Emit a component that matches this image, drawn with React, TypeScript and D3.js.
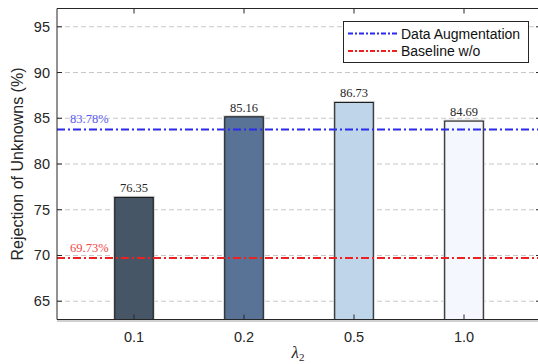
import React from "react";
import * as d3 from "d3";

const categories = ["0.1", "0.2", "0.5", "1.0"];
const values = [76.35, 85.16, 86.73, 84.69];
const barColors = ["#465666", "#587396", "#bfd5ea", "#f5f7fe"];
const yTicks = [65, 70, 75, 80, 85, 90, 95];
const augValue = 83.78;
const baseValue = 69.73;
const legendLabels = ["Data Augmentation", "Baseline w/o"];

const W = 538, H = 364;
const L = 57, R = 541, T = 8.5, B = 319.5;

export default function App() {
  const x = d3.scaleLinear().domain([0.3, 4.7]).range([L, R]);
  const y = d3.scaleLinear().domain([63, 97]).range([B, T]);
  const bw = x(0.35) - x(0);
  const sans = "'Liberation Sans', Arial, sans-serif";
  const serif = "'Liberation Serif', 'DejaVu Serif', serif";
  const dash = "8,3,2,3";
  const blue = "#2a2af0";
  const red = "#ee2020";
  return (
    <svg width={W} height={H} style={{ position: "absolute", left: 0, top: 0 }}>
      <rect x={0} y={0} width={W} height={H} fill="#fff" />
      {yTicks.map((t) => (
        <g key={t}>
          <line x1={L} x2={R} y1={y(t)} y2={y(t)} stroke="#c8c8c8" strokeDasharray="5,3" strokeWidth={1} />
          <line x1={L} x2={L + 5} y1={y(t)} y2={y(t)} stroke="#262626" />
          <line x1={R - 5} x2={R} y1={y(t)} y2={y(t)} stroke="#262626" />
          <text x={L - 7} y={y(t) + 5} textAnchor="end" fontFamily={sans} fontSize={14.5} fill="#262626">{t}</text>
        </g>
      ))}
      {values.map((v, i) => {
        const cx = x(i + 1);
        return (
          <g key={i}>
            <rect x={cx - bw / 2} y={y(v)} width={bw} height={B - y(v)} fill="none" stroke="#cfcfcf" strokeWidth={3} />
            <rect x={cx - bw / 2} y={y(v)} width={bw} height={B - y(v)} fill={barColors[i]} stroke="#111" strokeWidth={1} />
            <text x={cx} y={y(v) - 5} textAnchor="middle" fontFamily={serif} fontSize={12.5} fill="#262626">{v.toFixed(2)}</text>
          </g>
        );
      })}
      <line x1={L} x2={R} y1={y(augValue)} y2={y(augValue)} stroke={blue} strokeWidth={2} strokeDasharray={dash} />
      <line x1={L} x2={R} y1={y(baseValue)} y2={y(baseValue)} stroke={red} strokeWidth={2} strokeDasharray={dash} />
      <text x={70} y={y(augValue) - 6} fontFamily={serif} fontSize={12.5} fill="#5a5af0">{augValue.toFixed(2)}%</text>
      <text x={70} y={y(baseValue) - 6} fontFamily={serif} fontSize={12.5} fill="#f04848">{baseValue.toFixed(2)}%</text>
      {categories.map((c, i) => (
        <g key={c}>
          <line x1={x(i + 1)} x2={x(i + 1)} y1={B} y2={B - 5} stroke="#262626" />
          <line x1={x(i + 1)} x2={x(i + 1)} y1={T} y2={T + 5} stroke="#262626" />
          <text x={x(i + 1)} y={342} textAnchor="middle" fontFamily={sans} fontSize={14.5} fill="#262626">{c}</text>
        </g>
      ))}
      <line x1={L} x2={R} y1={B + 1.5} y2={B + 1.5} stroke="#d0d0d0" strokeWidth={2} />
      <line x1={L} x2={L} y1={T} y2={B} stroke="#262626" />
      <line x1={L} x2={R} y1={B} y2={B} stroke="#262626" />
      <line x1={L} x2={R} y1={T} y2={T} stroke="#262626" />
      <line x1={R} x2={R} y1={T} y2={B} stroke="#262626" />
      <g>
        <rect x={343.5} y={21.5} width={185} height={41} fill="#fff" stroke="#262626" strokeWidth={1} />
        <line x1={348} x2={397} y1={33.5} y2={33.5} stroke={blue} strokeWidth={2} strokeDasharray="5,2,2,2" />
        <line x1={348} x2={397} y1={51} y2={51} stroke={red} strokeWidth={2} strokeDasharray="5,2,2,2" />
        <text x={401} y={38.5} fontFamily={sans} fontSize={14} fill="#111">{legendLabels[0]}</text>
        <text x={401} y={56} fontFamily={sans} fontSize={14} fill="#111">{legendLabels[1]}</text>
      </g>
      <text transform={`translate(23,${(T + B) / 2}) rotate(-90)`} textAnchor="middle" fontFamily={sans} fontSize={16} fill="#262626">Rejection of Unknowns (%)</text>
      <text x={298} y={358} textAnchor="middle" fontFamily={serif} fontSize={17} fontStyle="italic" fill="#262626">
        λ<tspan fontSize={11} dy={3} fontStyle="normal">2</tspan>
      </text>
    </svg>
  );
}
